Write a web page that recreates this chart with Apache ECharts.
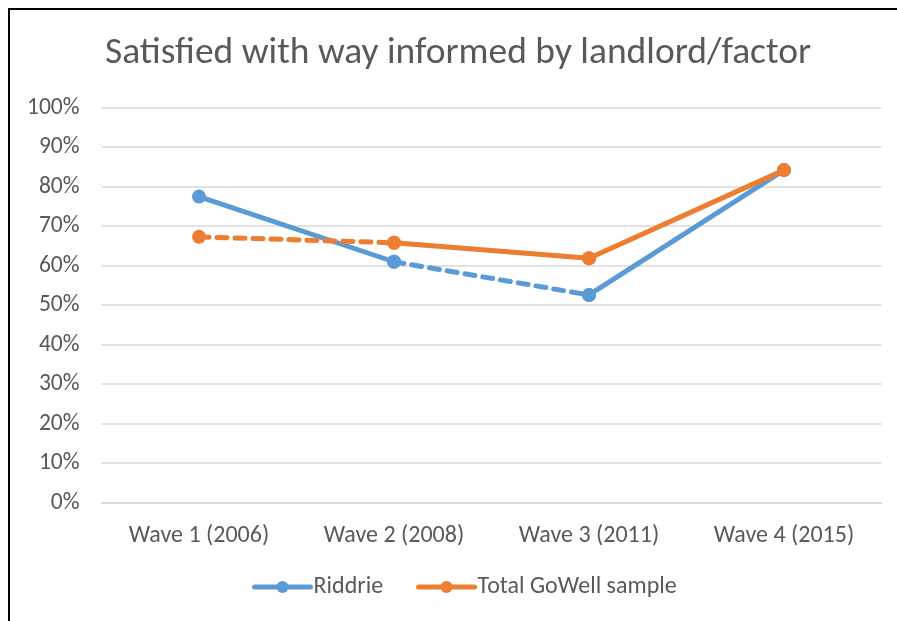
<!DOCTYPE html>
<html>
<head>
<meta charset="utf-8">
<script src="https://cdn.jsdelivr.net/npm/echarts@6/dist/echarts.min.js"></script>
<style>
  html, body { margin: 0; padding: 0; background: #fff; }
  #chart { width: 897px; height: 621px; }
</style>
</head>
<body>
<div id="chart"></div>
<script>
// data
var waves = ['Wave 1 (2006)', 'Wave 2 (2008)', 'Wave 3 (2011)', 'Wave 4 (2015)'];
var riddrie = [77.5, 61.0, 52.6, 84.2];
var totalGoWell = [67.3, 65.8, 61.9, 84.2];
// which segment (between point i and i+1) is dashed
var riddrieDashed = [false, true, false];
var totalDashed = [true, false, false];

var FONT = 'Carlito, Lato, sans-serif';
var TEXT = '#595959';

// one line series per segment so each piece can have its own line type
function segments(name, values, dashed, color) {
    var out = [];
    for (var i = 0; i < dashed.length; i++) {
        var d = values.map(function (v, j) { return (j === i || j === i + 1) ? v : '-'; });
        out.push({
            name: name,
            type: 'line',
            data: d,
            symbol: 'circle',
            symbolSize: 14,
            itemStyle: { color: color },
            lineStyle: { color: color, width: 5, type: dashed[i] ? [10, 8] : 'solid', cap: 'round' },
            emphasis: { disabled: true },
            animation: false
        });
    }
    return out;
}

var chart = echarts.init(document.getElementById('chart'));
chart.setOption({
    backgroundColor: '#fff',
    title: {
        text: 'Satisfied with way informed by landlord/factor',
        left: 453,
        textAlign: 'center',
        top: 30,
        textStyle: { fontFamily: FONT, fontSize: 37.5, fontWeight: 'normal', color: TEXT }
    },
    legend: {
        data: ['Riddrie', 'Total GoWell sample'],
        bottom: 22,
        left: 252,
        padding: 0,
        itemWidth: 56,
        itemHeight: 15,
        itemGap: 33,
        lineStyle: { type: 'solid', width: 5 },
        textStyle: { fontFamily: FONT, fontSize: 24, color: TEXT, padding: [0, 0, 0, -2] }
    },
    grid: { left: 101.5, right: 15.5, top: 107.7, bottom: 118.3 },
    xAxis: {
        type: 'category',
        data: waves,
        boundaryGap: true,
        axisLine: { lineStyle: { color: '#d9d9d9', width: 1.5 } },
        axisTick: { show: false },
        axisLabel: { fontFamily: FONT, fontSize: 24, color: TEXT, margin: 21 }
    },
    yAxis: {
        type: 'value',
        min: 0,
        max: 100,
        interval: 10,
        axisLine: { show: false },
        axisTick: { show: false },
        splitLine: { lineStyle: { color: '#d9d9d9', width: 1.5 } },
        axisLabel: { fontFamily: FONT, fontSize: 23.5, color: TEXT, margin: 22, formatter: '{value}%' }
    },
    graphic: [{
        type: 'polyline',
        shape: { points: [[9, 621], [9, 9], [897, 9]] },
        style: { stroke: '#000', lineWidth: 2, fill: null }
    }],
    series: segments('Riddrie', riddrie, riddrieDashed, '#5B9BD5')
        .concat(segments('Total GoWell sample', totalGoWell, totalDashed, '#ED7D31'))
});
</script>
</body>
</html>
